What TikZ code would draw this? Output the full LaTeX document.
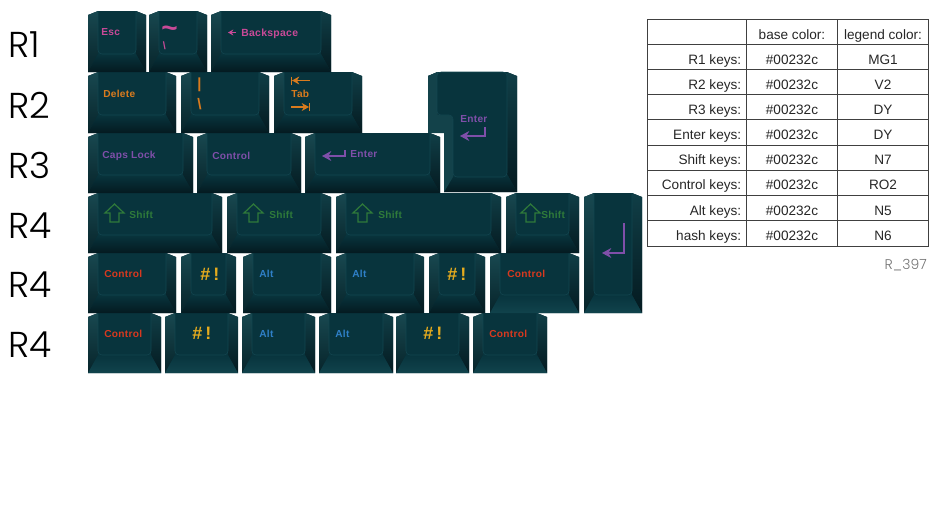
\documentclass[tikz,border=0pt]{standalone}
\usepackage{fontspec}
\setmainfont{Liberation Sans}
\newfontfamily\legendfont[LetterSpace=3]{Liberation Sans}
\newfontfamily\rowfont{Poppins Light}
\usetikzlibrary{arrows.meta,positioning}
\definecolor{KeyFace}{HTML}{08343D}
\definecolor{KeyEdge}{HTML}{134650}
\definecolor{KeySide}{HTML}{184850}
\definecolor{KeyDark}{HTML}{07242A}
\definecolor{KeyDeep}{HTML}{041A20}
\definecolor{KeyLow}{HTML}{11434C}
\definecolor{LegendPink}{HTML}{C94A98}
\definecolor{LegendOrange}{HTML}{D97B1E}
\definecolor{LegendPurple}{HTML}{7F4FA9}
\definecolor{LegendGreen}{HTML}{2F7A3A}
\definecolor{LegendRed}{HTML}{D8391F}
\definecolor{LegendBlue}{HTML}{2F80C8}
\definecolor{LegendYellow}{HTML}{E5AB1E}
% sides and front of one cap, #5 = colour at the lower edge
\newcommand{\keybody}[5]{
  \fill[KeyFace] (#1,#2+4) -- (#1+10,#2) -- (#3-10,#2) -- (#3,#2+4) -- (#3,#4) -- (#1,#4) -- cycle;
  \shade[top color=KeySide, bottom color=KeyDark] (#1,#2+4) -- (#1+10,#2) -- (#1+10,#4-18) -- (#1,#4) -- cycle;
  \shade[top color=KeySide!50!KeyFace, bottom color=KeyDeep] (#3,#2+4) -- (#3-10,#2) -- (#3-10,#4-18) -- (#3,#4) -- cycle;
  \shade[top color=KeyFace, bottom color=#5] (#1,#4) -- (#1+10,#4-18) -- (#3-10,#4-18) -- (#3,#4) -- cycle;
}
\newcommand{\keycap}[5]{
  \keybody{#1}{#2}{#3}{#4}{#5}
  \draw[keytop] (#1+10,#2) -- (#1+10,#4-18) -- (#3-10,#4-18) -- (#3-10,#2);
}
\newcommand{\shiftarrow}[2]{
  \draw[shiftline] (#1,#2+9) -- (#1+9.5,#2) -- (#1+19,#2+9) -- (#1+14,#2+9) -- (#1+14,#2+18)
    -- (#1+5,#2+18) -- (#1+5,#2+9) -- cycle;
}
\begin{document}
\begin{tikzpicture}[x=0.75pt,y=-0.75pt,
    keytop/.style={draw=KeyEdge, fill=KeyFace, rounded corners=3pt, line width=0.4pt},
    legend/.style={anchor=west, inner sep=0pt, font=\legendfont\fontsize{7.6}{8}\selectfont\bfseries},
    hash/.style={anchor=west, inner sep=0pt, text=LegendYellow, font=\legendfont\fontsize{13.5}{14}\selectfont\bfseries},
    rowlabel/.style={anchor=west, inner sep=0pt, font=\rowfont\fontsize{27}{30}\selectfont},
    cell/.style={anchor=base, inner sep=0pt, font=\fontsize{10.2}{12}\selectfont, text=black!85},
    enterline/.style={-{Stealth[length=7pt,width=7.5pt]}, line width=1pt, LegendPurple},
    tabline/.style={-{Stealth[length=5.5pt,width=6pt]}, line width=0.9pt, LegendOrange},
    shiftline/.style={line width=0.9pt, LegendGreen},
    tableline/.style={line width=0.6pt, black!75}
  ]
  \useasboundingbox (0,0) rectangle (940,529);
  % row labels
  \node[rowlabel] (labelone) at (8,45) {R1};
  \node[rowlabel] (labeltwo) at (8,105) {R2};
  \node[rowlabel] (labelthree) at (8,165) {R3};
  \node[rowlabel] (labelfour) at (8,226) {R4};
  \node[rowlabel] (labelfive) at (8,285) {R4};
  \node[rowlabel] (labelsix) at (8,345) {R4};
  % big enter first, the rows below sit over it
  \keybody{428}{72}{517}{192}{KeyDeep}
  \fill[white] (428,133) rectangle (444,192.5);
  \fill[KeySide!70!KeyFace] (428,133) -- (428,76) -- (437,72) -- (437,115) -- (453,115) -- (453,177) -- (444,192) -- (444,133) -- cycle;
  \fill[keytop] (437,72) -- (437,115) -- (453,115) -- (453,177) -- (507,177) -- (507,72) -- cycle;
  % row 6
  \keycap{88}{313}{161}{373}{KeyLow}
  \keycap{165}{313}{238}{373}{KeyLow}
  \keycap{242}{313}{315}{373}{KeyLow}
  \keycap{319}{313}{393}{373}{KeyLow}
  \keycap{396}{313}{469}{373}{KeyLow}
  \keycap{473}{313}{547}{373}{KeyLow}
  % row 5
  \keycap{88}{253}{176}{313}{KeyDeep}
  \keycap{181}{253}{236}{313}{KeyDeep}
  \keycap{243}{253}{331}{313}{KeyDeep}
  \keycap{336}{253}{424}{313}{KeyDeep}
  \keycap{429}{253}{485}{313}{KeyDeep}
  \keycap{490}{253}{579}{313}{KeyLow}
  \keycap{584}{193}{642}{313}{KeyLow}
  % row 4
  \keycap{88}{193}{222}{253}{KeyDeep}
  \keycap{227}{193}{331}{253}{KeyDeep}
  \keycap{336}{193}{501}{253}{KeyDeep}
  \keycap{506}{193}{579}{253}{KeyDeep}
  % row 3
  \keycap{88}{133}{193}{193}{KeyDeep}
  \keycap{197}{133}{301}{193}{KeyDeep}
  \keycap{305}{133}{440}{193}{KeyDeep}
  % row 2
  \keycap{88}{72}{176}{133}{KeyDeep}
  \keycap{181}{72}{269}{133}{KeyDeep}
  \keycap{274}{72}{362}{133}{KeyDeep}
  % row 1
  \keycap{88}{11}{146}{72}{KeyDeep}
  \keycap{149}{11}{207}{72}{KeyDeep}
  \keycap{211}{11}{331}{72}{KeyDeep}
  % legends
  \node[legend, text=LegendPink] (esc) at (101,32.5) {Esc};
  \node[legend, text=LegendPink, font=\legendfont\fontsize{21}{22}\selectfont\bfseries] (tilde) at (161,37) {\smash{\char"7E}};
  \node[legend, text=LegendPink, font=\legendfont\fontsize{8}{9}\selectfont\bfseries] (grave) at (162.5,46) {\textbackslash};
  \node[legend, text=LegendPink, font=\legendfont\fontsize{7.8}{8}\selectfont\bfseries] (backspace) at (241,33.5) {Backspace};
  \draw[-{Stealth[length=4pt,width=4.5pt]}, line width=0.9pt, LegendPink] (236,32.5) -- (228,32.5);
  \node[legend, text=LegendOrange] (delete) at (103,93.5) {Delete};
  \node[legend, text=LegendOrange, font=\legendfont\fontsize{11}{12}\selectfont\bfseries] (pipe) at (197,85) {|};
  \node[legend, text=LegendOrange, font=\legendfont\fontsize{11.5}{12}\selectfont\bfseries] (backslash) at (197,104) {\textbackslash};
  \node[legend, text=LegendOrange] (tab) at (291,93.5) {Tab};
  \draw[tabline] (310,80.5) -- (292,80.5);
  \draw[line width=0.9pt, LegendOrange] (291.5,76.5) -- (291.5,84.5);
  \draw[tabline] (291,107) -- (309,107);
  \draw[line width=0.9pt, LegendOrange] (309.5,103) -- (309.5,111);
  \node[legend, text=LegendPurple] (capslock) at (102,155.5) {Caps Lock};
  \node[legend, text=LegendPurple] (controltwo) at (212,155.5) {Control};
  \node[legend, text=LegendPurple] (enterlow) at (350,154.5) {Enter};
  \draw[enterline] (345,150) -- (345,156) -- (322,156);
  \node[legend, text=LegendPurple] (enterbig) at (460,119.5) {Enter};
  \draw[enterline] (485,127) -- (485,136) -- (460,136);
  \draw[enterline] (624,223) -- (624,253) -- (602,253);
  \shiftarrow{105}{204}
  \shiftarrow{244}{204}
  \shiftarrow{353}{204}
  \shiftarrow{521}{204}
  \node[legend, text=LegendGreen] (shiftone) at (129,214.5) {Shift};
  \node[legend, text=LegendGreen] (shifttwo) at (269,214.5) {Shift};
  \node[legend, text=LegendGreen] (shiftthree) at (378,214.5) {Shift};
  \node[legend, text=LegendGreen] (shiftfour) at (541,214.5) {Shift};
  \node[legend, text=LegendRed] (controlone) at (104,274) {Control};
  \node[hash] (hashone) at (200,274) {\#\,!};
  \node[legend, text=LegendBlue] (altone) at (259,274) {Alt};
  \node[legend, text=LegendBlue] (alttwo) at (352,274) {Alt};
  \node[hash] (hashtwo) at (447,274) {\#\,!};
  \node[legend, text=LegendRed] (controlthree) at (507,274) {Control};
  \node[legend, text=LegendRed] (controlfour) at (104,334) {Control};
  \node[hash] (hashthree) at (192,333) {\#\,!};
  \node[legend, text=LegendBlue] (altthree) at (259,334) {Alt};
  \node[legend, text=LegendBlue] (altfour) at (335,334) {Alt};
  \node[hash] (hashfour) at (423,333) {\#\,!};
  \node[legend, text=LegendRed] (controlfive) at (489,334) {Control};
  % colour table
  \draw[tableline] (647,19) rectangle (928,246);
  \draw[tableline] (746.5,19) -- (746.5,246);
  \draw[tableline] (837,19) -- (837,246);
  \foreach \i in {1,...,8}
    \draw[tableline] (647,19+25.2*\i) -- (928,19+25.2*\i);
  \node[cell] (basehead) at (792,39) {base color:};
  \node[cell] (legendhead) at (883,39) {legend color:};
  \foreach \keyname/\legendname [count=\i] in {R1 keys:/MG1, R2 keys:/V2, R3 keys:/DY, Enter keys:/DY,
      Shift keys:/N7, Control keys:/RO2, Alt keys:/N5, hash keys:/N6} {
    \node[cell, anchor=base east] (name\i) at (741.5,39+25.15*\i) {\keyname};
    \node[cell] (base\i) at (792,39+25.15*\i) {\#00232c};
    \node[cell] (legend\i) at (883,39+25.15*\i) {\legendname};
  }
  \node[anchor=east, inner sep=0pt, text=black!55, font=\rowfont\fontsize{10.5}{12}\selectfont] (partcode) at (927,265) {R\_397};
\end{tikzpicture}
\end{document}
